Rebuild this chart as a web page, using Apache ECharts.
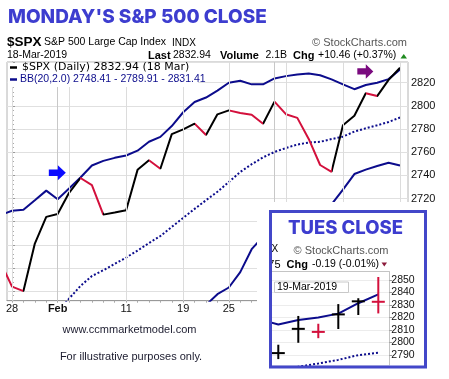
<!DOCTYPE html>
<html><head><meta charset="utf-8">
<script src="https://cdn.jsdelivr.net/npm/echarts@6/dist/echarts.min.js"></script>
<style>html,body{margin:0;padding:0;background:#fff}#c{width:449px;height:379px}</style>
</head><body><div id="c"></div>
<script>
// ---------- main chart data (Jan 25 .. Mar 18, 2019) ----------
const dates = ['25-Jan','28-Jan','29-Jan','30-Jan','31-Jan','1-Feb','4-Feb','5-Feb','6-Feb','7-Feb','8-Feb','11-Feb','12-Feb','13-Feb','14-Feb','15-Feb','19-Feb','20-Feb','21-Feb','22-Feb','25-Feb','26-Feb','27-Feb','28-Feb','1-Mar','4-Mar','5-Mar','6-Mar','7-Mar','8-Mar','11-Mar','12-Mar','13-Mar','14-Mar','15-Mar','18-Mar'];
const closes = [2664.76,2643.85,2640.00,2681.05,2704.10,2706.53,2724.87,2737.70,2731.61,2706.05,2707.88,2709.80,2744.73,2753.03,2745.73,2775.60,2779.76,2784.70,2774.88,2792.67,2796.11,2793.90,2792.38,2784.49,2803.69,2792.81,2789.65,2771.45,2748.93,2743.07,2783.30,2791.52,2810.92,2808.48,2822.48,2832.94];
const bbUpper = [2705.8,2709.4,2710.3,2718.5,2726.8,2719.4,2728.7,2738.1,2748.5,2752.5,2755.1,2757.1,2761.3,2769.0,2773.2,2782.6,2794.5,2803.3,2807.2,2813.2,2820.0,2821.7,2818.6,2818.6,2823.7,2825.7,2827.1,2828.0,2826.5,2822.9,2818.6,2814.4,2818.0,2820.0,2823.1,2831.41];
const bbMiddle = [null,null,null,null,null,2622,2633.5,2644.5,2653.0,2658.0,2663.5,2669.0,2675.0,2681.5,2687.6,2695.5,2703.2,2711.0,2718.5,2725.8,2734.2,2742.9,2749.6,2755.5,2760.2,2763.6,2766.6,2768.3,2769.0,2771.3,2773.4,2777.8,2780.6,2783.2,2786.1,2789.91];
const bbLower = [null,null,null,null,null,null,null,null,null,null,null,null,null,null,null,null,null,null,2628,2637.3,2643.1,2656.4,2676.2,2687,2694,2700,2705,2708,2710,2715,2727.6,2741.1,2744.9,2748.0,2750.8,2748.41];
const xTickIdx = [0,4,10,15,19,23,29,34];
const xTickText = ['28','Feb','11','19','25','Mar','11','18'];
const weekLines = [0,5,10,15,19,24,29,34];
const monthLines = [4,23];

// ---------- inset data (Mar 11 .. Mar 19) ----------
const insetDates = ['11-Mar','12-Mar','13-Mar','14-Mar','15-Mar','18-Mar','19-Mar'];
const insetHigh  = [null,2798.22,2821.24,2815.00,2830.73,2835.41,2852.42];
const insetLow   = [null,2786.73,2799.78,2803.46,2810.79,2821.99,2823.27];
const insetClose = [2783.30,2791.52,2810.92,2808.48,2822.48,2832.94,2832.57];
const insetUpper = [2818.6,2814.4,2818.0,2820.0,2823.1,2831.41,2838.5];
const insetMiddle= [2773.4,2777.8,2780.6,2783.2,2786.1,2789.91,2791.8];

const BLACK='#000000', RED='#d3103c', NAVY='#0c0c8c', TITLE='#3d3dcf';
const GRIDC='#e0e0e0';
const F='"Liberation Sans", Arial, sans-serif';

const xOf = k => k - 1;
const pairs = arr => arr.map((v,k)=>v==null?null:[xOf(k), v]).filter(p=>p);
const pieces = [{lte:-1, color:BLACK}];
for (let k=1;k<closes.length;k++) pieces.push({gt:xOf(k)-1, lte:xOf(k), color: closes[k]<closes[k-1]?RED:BLACK});

const arrowPath = 'path://M0,4 L9,4 L9,0 L17,7 L9,14 L9,10 L0,10 Z';

const chart = echarts.init(document.getElementById('c'), null, {renderer:'canvas', width:449, height:379});

function txt(text, x, y, font, fill, align, z){
  return {type:'text', x:x, y:y, z:z||30, silent:true,
    style:{text:text, font:font, fill:fill||'#111', align:align||'left', verticalAlign:'middle'}};
}

const option = {
  animation:false,
  backgroundColor:'#fff',
  grid:[
    {left:7, right:41, top:62, bottom:78.3, show:true, borderColor:'#b4b4b4', borderWidth:1, backgroundColor:'transparent'},
    {left:272, top:271.7, width:117.3, height:93.3}
  ],
  xAxis:[
    {type:'value', gridIndex:0, min:-0.44, max:34.7,
      axisLine:{show:true, lineStyle:{color:'#999'}},
      axisTick:{show:true, customValues:dates.map((d,k)=>xOf(k)).filter(v=>v>=0), length:2, lineStyle:{color:'#aaa'}},
      axisLabel:{customValues:xTickIdx, color:'#111', fontFamily:F, fontSize:11, margin:3,
        formatter:v=>{const i=xTickIdx.indexOf(v); const t=xTickText[i]; return (t==='Feb'||t==='Mar')?'{b|'+t+'}':t;},
        rich:{b:{fontWeight:'bold', fontSize:11, fontFamily:F, color:'#111'}}},
      splitLine:{show:false}},
    {type:'value', gridIndex:1, min:0.685, max:6.55, position:'top', z:150,
      axisLine:{show:true, lineStyle:{color:'#c4c4c4'}}, axisTick:{show:false}, axisLabel:{show:false}, splitLine:{show:false}}
  ],
  yAxis:[
    {type:'value', gridIndex:0, position:'right', min:2631.7, max:2837.9, splitNumber:10,
      axisLine:{show:true, lineStyle:{color:'#999'}},
      axisTick:{show:true, length:3, lineStyle:{color:'#999'}},
      minorTick:{show:true, splitNumber:5, length:2, lineStyle:{color:'#aaa'}},
      axisLabel:{color:'#111', fontFamily:F, fontSize:11, margin:3, showMinLabel:false, showMaxLabel:false, formatter:v=>String(Math.round(v))},
      splitLine:{show:true, lineStyle:{color:GRIDC, width:1}}},
    {type:'value', gridIndex:1, position:'right', min:2782, max:2856.64, splitNumber:7, z:150,
      axisLine:{show:true, lineStyle:{color:'#c4c4c4'}},
      axisTick:{show:true, length:3, lineStyle:{color:'#999'}},
      axisLabel:{color:'#111', fontFamily:F, fontSize:10.5, margin:2, showMinLabel:false, showMaxLabel:false, formatter:v=>String(Math.round(v))},
      splitLine:{show:true, lineStyle:{color:'#ececec'}}}
  ],
  visualMap:[{type:'piecewise', show:false, dimension:0, seriesIndex:4, pieces:pieces}],
  series:[
    {type:'line', xAxisIndex:0, yAxisIndex:0, z:1, data:[], silent:true,
      markLine:{silent:true, symbol:['none','none'], label:{show:false}, animation:false,
        data: weekLines.map(v=>({xAxis:v, lineStyle:{color:'#dcdcdc', width:1, type:'solid'}}))
          .concat(monthLines.map(v=>({xAxis:v, lineStyle:{color:'#c8c8c8', width:1, type:'solid'}})))}},
    {type:'line', xAxisIndex:0, yAxisIndex:0, z:3, data:pairs(bbUpper), showSymbol:false, silent:true,
      lineStyle:{color:NAVY, width:2}},
    {type:'line', xAxisIndex:0, yAxisIndex:0, z:3, data:pairs(bbMiddle), showSymbol:false, silent:true,
      lineStyle:{color:NAVY, width:2, type:[2,2]}},
    {type:'line', xAxisIndex:0, yAxisIndex:0, z:3, data:pairs(bbLower), showSymbol:false, silent:true,
      lineStyle:{color:NAVY, width:2}},
    {type:'line', xAxisIndex:0, yAxisIndex:0, z:4, data:pairs(closes), showSymbol:false, silent:true,
      lineStyle:{width:2},
      markPoint:{silent:true, label:{show:false}, animation:false, data:[
        {coord:[3.97, 2742.2], symbol:arrowPath, symbolSize:[17,15], symbolKeepAspect:false, itemStyle:{color:'#0b0bff'}},
        {coord:[30.96, 2829.8], symbol:arrowPath, symbolSize:[16,14.5], symbolKeepAspect:false, itemStyle:{color:'#7a0a7f'}}
      ]}},
    // inset
    {type:'line', xAxisIndex:1, yAxisIndex:1, z:160, data:[], silent:true,
      markLine:{silent:true, symbol:['none','none'], label:{show:false}, animation:false,
        data:[{xAxis:5, lineStyle:{color:'#d4d4d4', width:1, type:'solid'}}]}},
    {type:'line', xAxisIndex:1, yAxisIndex:1, z:200, data:insetUpper.map((v,i)=>[i,v]), showSymbol:false, silent:true,
      lineStyle:{color:NAVY, width:2}},
    {type:'line', xAxisIndex:1, yAxisIndex:1, z:200, data:insetMiddle.map((v,i)=>[i,v]), showSymbol:false, silent:true,
      lineStyle:{color:NAVY, width:2, type:[2,2]}},
    {type:'custom', xAxisIndex:1, yAxisIndex:1, z:205, silent:true,
      encode:{x:0, y:[1,2,3]},
      data: insetDates.map((d,i)=>[i, insetHigh[i], insetLow[i], insetClose[i], i]).filter(r=>r[1]!=null),
      renderItem:(params, api)=>{
        const x=api.value(0), i=api.value(4);
        const hi=api.coord([x, api.value(1)]), lo=api.coord([x, api.value(2)]), c=api.coord([x, api.value(3)]);
        const col = insetClose[i] < insetClose[i-1] ? RED : BLACK;
        return {type:'group', children:[
          {type:'line', shape:{x1:hi[0], y1:hi[1], x2:lo[0], y2:lo[1]}, style:{stroke:col, lineWidth:2}},
          {type:'line', shape:{x1:c[0]-6.5, y1:c[1], x2:c[0]+6.5, y2:c[1]}, style:{stroke:col, lineWidth:2}}
        ]};
      },
      markPoint:{silent:true, label:{show:false}, animation:false, data:[
        {coord:[4.9, 2848], symbol:arrowPath, symbolSize:[17.5,12], symbolKeepAspect:false, itemStyle:{color:'#ff0a0a'}}
      ]}}
  ],
  graphic:[
    // title + header
    txt("MONDAY'S S&P 500 CLOSE", 8, 17.5, '800 19px Inter, sans-serif', TITLE),
    txt('$SPX', 7, 42.5, 'bold 13.5px '+F, '#000'),
    txt('S&P 500 Large Cap Index', 44, 42.5, '10.5px '+F, '#000'),
    txt('INDX', 172, 43, '10px '+F, '#000'),
    txt('\u00A9 StockCharts.com', 407, 43, '11px '+F, '#555', 'right'),
    txt('18-Mar-2019', 7, 55.5, '10.5px '+F, '#000'),
    txt('Last', 148, 55.5, 'bold 11px '+F, '#000'),
    txt('2832.94', 173, 55.5, '10.5px '+F, '#000'),
    txt('Volume', 220, 55.5, 'bold 11px '+F, '#000'),
    txt('2.1B', 265.5, 55.5, '10.5px '+F, '#000'),
    txt('Chg', 293, 55.5, 'bold 11px '+F, '#000'),
    txt('+10.46 (+0.37%)', 318, 55.5, '10.5px '+F, '#000'),
    {type:'polygon', z:30, silent:true, shape:{points:[[400.5,58.5],[407,58.5],[403.75,54]]}, style:{fill:'#1f8a1f'}},
    // legend box
    {type:'rect', z:20, silent:true, shape:{x:8, y:63, width:190, height:24}, style:{fill:'#fff'}},
    {type:'line', z:30, silent:true, shape:{x1:10, y1:67.5, x2:17, y2:67.5}, style:{stroke:'#000', lineWidth:2.5}},
    txt('$SPX (Daily) 2832.94 (18 Mar)', 22, 67.5, '11px "DejaVu Sans", sans-serif', '#000'),
    {type:'line', z:30, silent:true, shape:{x1:10, y1:79.5, x2:17, y2:79.5}, style:{stroke:NAVY, lineWidth:2.5}},
    txt('BB(20,2.0) 2748.41 - 2789.91 - 2831.41', 20, 79.5, '10.5px '+F, NAVY),
    // footer
    txt('www.ccmmarketmodel.com', 129.5, 330, '11px '+F, '#1b1b2e', 'center'),
    txt('For illustrative purposes only.', 131, 357, '11px '+F, '#1b1b2e', 'center'),
    // inset panel
    {type:'rect', z:100, silent:true, shape:{x:257, y:202, width:192, height:177}, style:{fill:'#fff'}},
    txt('TUES CLOSE', 345.5, 228, '800 18.5px Inter, sans-serif', TITLE, 'center', 210),
    txt('X', 271.5, 249.5, '10px '+F, '#000', 'left', 210),
    txt('\u00A9 StockCharts.com', 388.5, 250.5, '11px '+F, '#555', 'right', 210),
    txt('75', 280.5, 264.5, '11px '+F, '#000', 'right', 210),
    txt('Chg', 286.5, 264.5, 'bold 11px '+F, '#000', 'left', 210),
    txt('-0.19 (-0.01%)', 312, 264.5, '10.5px '+F, '#000', 'left', 210),
    {type:'polygon', z:210, silent:true, shape:{points:[[381.5,262.5],[387,262.5],[384.25,266.5]]}, style:{fill:'#8b1a3a'}},
    {type:'rect', z:210, silent:true, shape:{x:274.5, y:282, width:74, height:10.5}, style:{fill:'#fff', stroke:'#c8c8c8', lineWidth:1}},
    txt('19-Mar-2019', 277, 287.5, '10.5px '+F, '#000', 'left', 212),
    {type:'rect', z:215, silent:true, shape:{x:257, y:202, width:12.5, height:177}, style:{fill:'#fff'}},
    {type:'rect', z:220, silent:true, shape:{x:270.5, y:211.5, width:155, height:155.5}, style:{fill:'none', stroke:'#4347c9', lineWidth:3}}
  ]
};
chart.setOption(option);
</script>
</body></html>
